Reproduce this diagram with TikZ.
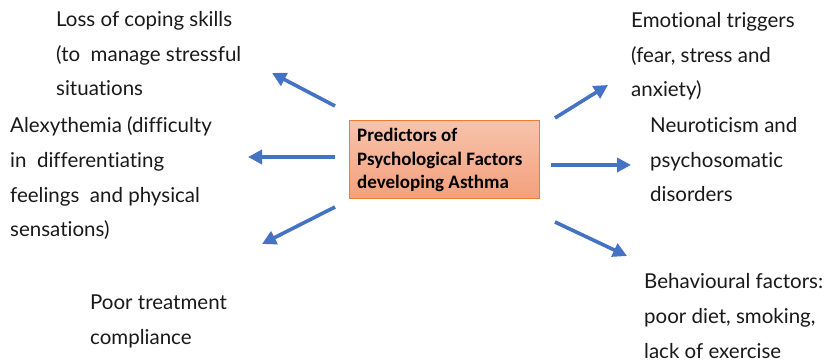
\documentclass[tikz,border=0pt]{standalone}
\usepackage{fontspec}
\setmainfont{Lato}[Ligatures=NoCommon]
\newfontfamily\boxfont{Carlito}
\usetikzlibrary{arrows.meta}
\definecolor{arrowblue}{HTML}{4472C4}
\definecolor{boxedge}{HTML}{ED7D31}
\definecolor{boxtop}{HTML}{F7C3AB}
\definecolor{boxbot}{HTML}{F3A07C}
\tikzset{
  label/.style={anchor=base west, inner sep=0pt, align=left,
    font=\fontsize{20.5}{34.8}\selectfont, text=black!90},
  arr/.style={draw=arrowblue, line width=3.6pt,
    -{Triangle[length=14pt,width=14pt]}},
  centerbox/.style={draw=boxedge, line width=1pt, top color=boxtop, bottom color=boxbot,
    minimum width=190pt, minimum height=78pt, inner sep=0pt}
}
\begin{document}
\begin{tikzpicture}[x=1pt,y=-1pt]
\useasboundingbox (0,0) rectangle (827,363);
\node[centerbox] (box) at (444,160) {};
\node[anchor=base west, inner sep=0pt, align=left, font=\boxfont\bfseries\fontsize{19}{23.5}\selectfont] (boxtext) at (357,189)
  {Predictors of\\Psychological Factors\\developing Asthma};
\node[label] (coping) at (56,96) {Loss of coping skills\\(to\ \ manage stressful\\situations};
\node[label] (alexy) at (10,237) {Alexythemia (difficulty\\in\ \ differentiating\\feelings\ \ and physical\\sensations)};
\node[label] (poor) at (90,344) {Poor treatment\\compliance};
\node[label] (emo) at (631,97) {Emotional triggers\\(fear, stress and\\anxiety)};
\node[label] (neuro) at (650,202) {Neuroticism and\\psychosomatic\\disorders};
\node[label] (behav) at (644,358) {Behavioural factors:\\poor diet, smoking,\\lack of exercise};
\coordinate (t1) at (335,106); \coordinate (h1) at (272,73);
\coordinate (t2) at (335,157); \coordinate (h2) at (248,157);
\coordinate (t3) at (335,207); \coordinate (h3) at (262,244);
\coordinate (t4) at (555,118); \coordinate (h4) at (608,85);
\coordinate (t5) at (551,165); \coordinate (h5) at (631,165);
\coordinate (t6) at (555,222); \coordinate (h6) at (627,256);
\draw[arr] (t1) -- (h1);
\draw[arr] (t2) -- (h2);
\draw[arr] (t3) -- (h3);
\draw[arr] (t4) -- (h4);
\draw[arr] (t5) -- (h5);
\draw[arr] (t6) -- (h6);
\end{tikzpicture}
\end{document}
